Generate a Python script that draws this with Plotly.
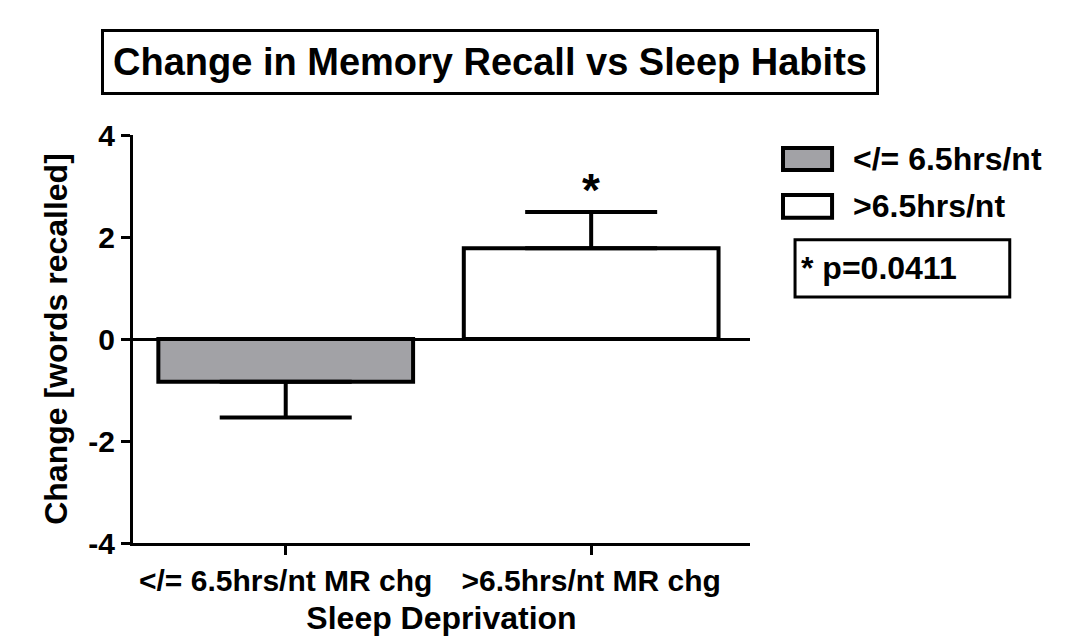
import plotly.graph_objects as go

# Data
categories = ["</= 6.5hrs/nt MR chg", ">6.5hrs/nt MR chg"]
series_names = ["</= 6.5hrs/nt", ">6.5hrs/nt"]
means = [-0.84, 1.78]
sem = [0.70, 0.71]
colors = ["#a2a2a6", "#ffffff"]
y_ticks = [-4, -2, 0, 2, 4]
title_text = "Change in Memory Recall vs Sleep Habits"
p_text = "* p=0.0411"

FONT = "Liberation Sans, Arial, Helvetica, sans-serif"

fig = go.Figure()
for i, (cat, name, m, e, c) in enumerate(zip(categories, series_names, means, sem, colors)):
    up = [e] if m >= 0 else [0]
    down = [e] if m < 0 else [0]
    fig.add_trace(go.Bar(
        x=[i], y=[m], name=name, width=0.834,
        marker=dict(color=c, line=dict(color="black", width=4)),
        error_y=dict(type="data", symmetric=False, array=up, arrayminus=down,
                     color="black", thickness=4, width=66),
        showlegend=False,
    ))

# significance asterisk above bar 2
fig.add_annotation(x=1, y=means[1] + sem[1], xref="x", yref="y", text="*",
                   showarrow=False, yanchor="bottom", yshift=-6,
                   font=dict(family=FONT, size=46, color="black", weight="bold"))

# title box
fig.add_annotation(x=0.579, y=1.179, xref="paper", yref="paper", text=title_text,
                   showarrow=False, xanchor="center", yanchor="middle",
                   bordercolor="black", borderwidth=3, borderpad=9,
                   font=dict(family=FONT, size=38, color="black", weight="bold"))

# manual legend
leg_y = [(0.968, 0.914), (0.853, 0.797)]
for (y1, y0), name, c in zip(leg_y, series_names, colors):
    fig.add_shape(type="rect", xref="paper", yref="paper", x0=1.0535, x1=1.133,
                  y0=y0, y1=y1, fillcolor=c, line=dict(color="black", width=4))
    fig.add_annotation(x=1.163, y=(y0 + y1) / 2, xref="paper", yref="paper", text=name,
                       showarrow=False, xanchor="left", yanchor="middle",
                       font=dict(family=FONT, size=32, color="black", weight="bold"))

# p-value box
fig.add_shape(type="rect", xref="paper", yref="paper", x0=1.073, x1=1.421,
              y0=0.603, y1=0.743, fillcolor="white", line=dict(color="black", width=3))
fig.add_annotation(x=1.079, y=0.673, xref="paper", yref="paper", text=p_text,
                   showarrow=False, xanchor="left", yanchor="middle",
                   font=dict(family=FONT, size=32, color="black", weight="bold"))

fig.update_layout(
    width=1065, height=638,
    margin=dict(l=133, r=315, t=135, b=95),
    paper_bgcolor="white", plot_bgcolor="white",
    font=dict(family=FONT, color="black"),
    bargap=0.1,
)
fig.update_xaxes(
    range=[-0.5, 1.52], tickvals=[0, 1], ticktext=categories,
    showline=True, linecolor="black", linewidth=3, mirror=False,
    ticks="outside", ticklen=9, tickwidth=3, tickcolor="black",
    tickfont=dict(family=FONT, size=30, color="black", weight="bold"),
    showgrid=False, zeroline=False, automargin=False,
    title=dict(text="Sleep Deprivation", standoff=11,
               font=dict(family=FONT, size=32, color="black", weight="bold")),
)
fig.update_yaxes(
    range=[-4, 4], tickvals=y_ticks, ticktext=[str(t) for t in y_ticks],
    showline=True, linecolor="black", linewidth=3,
    ticks="outside", ticklen=9, tickwidth=3, tickcolor="black",
    tickfont=dict(family=FONT, size=30, color="black", weight="bold"),
    showgrid=False, zeroline=True, zerolinecolor="black", zerolinewidth=3,
    automargin=False,
    title=dict(text="Change [words recalled]", standoff=12,
               font=dict(family=FONT, size=32, color="black", weight="bold")),
)

fig.write_html("out.html", config={"displayModeBar": False},
               post_script="document.body.style.margin='0';")
